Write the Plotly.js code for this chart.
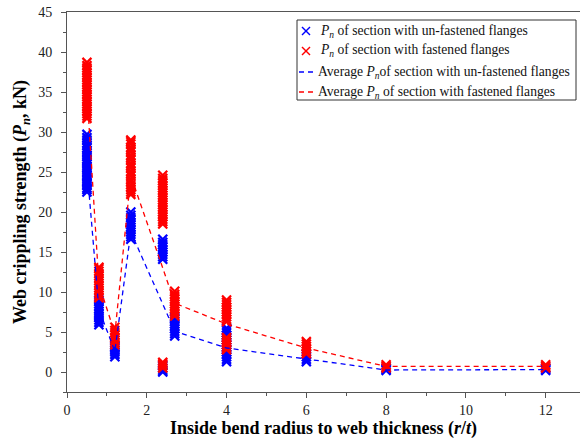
<!DOCTYPE html>
<html>
<head>
<meta charset="utf-8">
<script src="https://cdn.plot.ly/plotly-3.0.1.min.js"></script>
<style>html,body{margin:0;padding:0;background:#fff;}#chart{width:582px;height:446px;}</style>
</head>
<body>
<div id="chart"></div>
<script>
// r/t ratios (x categories)
const ratios = [0.5, 0.8, 1.2, 1.6, 2.4, 2.7, 4, 6, 8, 12];

// Pn of section with un-fastened flanges (kN), one list per ratio
const unfastenedPn = [
  [22.5, 22.8, 23.0, 23.3, 23.6, 23.8, 24.1, 24.4, 24.6, 24.9, 25.2, 25.5, 25.7, 26.0, 26.3, 26.6, 26.9, 27.1, 27.4, 27.7, 28.0, 28.3, 28.6, 29.0, 29.3, 29.7],
  [5.9, 6.2, 6.5, 6.8, 7.0, 7.3, 7.6, 7.9, 8.2, 8.5, 8.8, 9.0],
  [1.9, 2.2, 2.5, 2.7, 3.0, 3.2],
  [16.6, 16.9, 17.2, 17.5, 17.8, 18.1, 18.4, 18.7, 19.0, 19.3, 19.6, 20.0],
  [0.0, 0.2, 0.5, 0.8, 14.1, 14.4, 14.7, 15.0, 15.3, 15.6, 15.9, 16.2, 16.6],
  [4.5, 4.8, 5.1, 5.4, 5.7, 6.0, 6.3, 6.6, 6.8],
  [1.3, 1.6, 1.9, 2.2, 2.5, 2.8, 3.1, 3.4, 3.7, 4.0, 4.3, 4.6, 4.9, 5.2, 5.5],
  [1.3, 1.6, 1.9, 2.2],
  [0.2, 0.35, 0.5],
  [0.2, 0.35, 0.5]
];

// Pn of section with fastened flanges (kN), one list per ratio
const fastenedPn = [
  [31.7, 32.0, 32.3, 32.6, 32.9, 33.2, 33.5, 33.8, 34.1, 34.4, 34.7, 35.0, 35.3, 35.6, 35.9, 36.2, 36.5, 36.8, 37.1, 37.4, 37.7, 38.0, 38.3, 38.7],
  [9.3, 9.6, 9.9, 10.2, 10.5, 10.8, 11.1, 11.4, 11.7, 12.0, 12.3, 12.6, 12.9, 13.1],
  [3.4, 3.7, 4.0, 4.3, 4.6, 4.9, 5.2, 5.6],
  [22.2, 22.5, 22.8, 23.1, 23.4, 23.8, 24.1, 24.5, 24.8, 25.1, 25.5, 25.8, 26.1, 26.5, 26.8, 27.1, 27.5, 27.8, 28.1, 28.5, 28.8, 29.0],
  [0.5, 0.8, 1.0, 1.2, 18.5, 18.8, 19.1, 19.4, 19.7, 20.0, 20.3, 20.6, 20.9, 21.2, 21.5, 21.8, 22.1, 22.4, 22.7, 23.0, 23.3, 23.6, 23.9, 24.2, 24.6],
  [7.0, 7.3, 7.6, 7.9, 8.2, 8.5, 8.8, 9.1, 9.4, 9.7, 10.1],
  [2.8, 3.1, 3.4, 3.7, 4.0, 4.3, 6.3, 6.6, 6.9, 7.2, 7.5, 7.8, 8.1, 8.4, 8.7, 9.0],
  [2.3, 2.6, 2.9, 3.2, 3.5, 3.8],
  [0.5, 0.7, 0.9],
  [0.5, 0.7, 0.9]
];

// Average Pn per ratio
const avgUnfastened = [25.5, 7.8, 2.6, 17.5, 8.5, 5.1, 3.0, 1.6, 0.25, 0.3];
const avgFastened   = [35.0, 11.0, 4.8, 24.5, 13.0, 8.6, 6.0, 3.0, 0.7, 0.7];

// Legend labels
const Pn = '<i>P</i><sub><i>n</i></sub>';
const seriesNames = [
  Pn + ' of section with un-fastened flanges',
  Pn + ' of section with fastened flanges',
  'Average ' + Pn + 'of section with un-fastened flanges',
  'Average ' + Pn + ' of section with fastened flanges'
];
const seriesColors = ['#0000FF', '#FF0000', '#0000FF', '#FF0000'];

function flatten(groups) {
  const xs = [], ys = [];
  groups.forEach((vals, i) => vals.forEach(v => { xs.push(ratios[i]); ys.push(v); }));
  return {xs, ys};
}
const u = flatten(unfastenedPn);
const f = flatten(fastenedPn);

const serif = '"Liberation Serif", "Times New Roman", serif';

const traces = [
  {x: u.xs, y: u.ys, type: 'scatter', mode: 'markers', name: seriesNames[0],
   marker: {symbol: 'x-thin-open', size: 9, color: seriesColors[0], line: {width: 2.2, color: seriesColors[0]}}},
  {x: f.xs, y: f.ys, type: 'scatter', mode: 'markers', name: seriesNames[1],
   marker: {symbol: 'x-thin-open', size: 9, color: seriesColors[1], line: {width: 2.2, color: seriesColors[1]}}},
  {x: ratios, y: avgUnfastened, type: 'scatter', mode: 'lines', name: seriesNames[2],
   line: {color: seriesColors[2], width: 1.3, dash: '5px,4px'}},
  {x: ratios, y: avgFastened, type: 'scatter', mode: 'lines', name: seriesNames[3],
   line: {color: seriesColors[3], width: 1.3, dash: '5px,4px'}}
];

// plot area geometry (px) for the hand-drawn legend box
const W = 582, H = 446, ML = 67, MR = 2, MT = 12, MB = 54;
const px = x => (x - ML) / (W - ML - MR);
const py = y => (H - MB - y) / (H - MT - MB);

const shapes = [];
const annotations = [];
// legend box
shapes.push({type: 'rect', xref: 'paper', yref: 'paper',
  x0: px(297), x1: px(576), y0: py(100), y1: py(20),
  line: {color: '#333', width: 1}, fillcolor: '#fff', layer: 'above'});
const rowY = [31, 51, 72, 92];
seriesNames.forEach((name, i) => {
  const y = rowY[i];
  if (i < 2) {
    shapes.push({type: 'line', xref: 'paper', yref: 'paper', x0: px(302), x1: px(310), y0: py(y - 4), y1: py(y + 4),
      line: {color: seriesColors[i], width: 1.5}, layer: 'above'});
    shapes.push({type: 'line', xref: 'paper', yref: 'paper', x0: px(302), x1: px(310), y0: py(y + 4), y1: py(y - 4),
      line: {color: seriesColors[i], width: 1.5}, layer: 'above'});
  } else {
    shapes.push({type: 'line', xref: 'paper', yref: 'paper', x0: px(299), x1: px(315), y0: py(y), y1: py(y),
      line: {color: seriesColors[i], width: 1.3, dash: '5px,4px'}, layer: 'above'});
  }
  annotations.push({xref: 'paper', yref: 'paper', x: px(i < 2 ? 318 : 316), y: py(y), xanchor: 'left', yanchor: 'middle',
    text: name, showarrow: false, font: {family: serif, size: 13.6, color: '#111'}});
});

const layout = {
  width: W, height: H,
  margin: {l: ML, r: MR, t: MT, b: MB, autoexpand: false},
  paper_bgcolor: '#fff', plot_bgcolor: '#fff',
  font: {family: serif, size: 14, color: '#222'},
  showlegend: false,
  shapes: shapes,
  annotations: annotations,
  xaxis: {
    range: [0, 12.86], tickvals: [0, 2, 4, 6, 8, 10, 12], automargin: false,
    ticks: 'outside', ticklen: 5, tickcolor: '#555', tickwidth: 1,
    minor: {tickvals: [1, 3, 5, 7, 9, 11], ticks: 'outside', ticklen: 3, tickcolor: '#555'},
    showline: true, linecolor: '#555', linewidth: 1, mirror: true,
    showgrid: false, zeroline: false,
    tickfont: {family: serif, size: 14, color: '#222'},
    title: {text: 'Inside bend radius to web thickness (<i>r</i>/<i>t</i>)', standoff: 4,
            font: {family: serif, size: 18, color: '#000', weight: 'bold'}}
  },
  yaxis: {
    range: [-2.5, 45], tickvals: [0, 5, 10, 15, 20, 25, 30, 35, 40, 45], automargin: false,
    ticks: 'outside', ticklen: 5, tickcolor: '#555', tickwidth: 1, ticklabelstandoff: 6,
    minor: {tickvals: [-2.5, 2.5, 7.5, 12.5, 17.5, 22.5, 27.5, 32.5, 37.5, 42.5], ticks: 'outside', ticklen: 3, tickcolor: '#555'},
    showline: true, linecolor: '#555', linewidth: 1, mirror: false,
    showgrid: false, zeroline: false,
    tickfont: {family: serif, size: 14, color: '#222'},
    title: {text: 'Web crippling strength (' + Pn + ', kN)', standoff: 6,
            font: {family: serif, size: 18, color: '#000', weight: 'bold'}}
  }
};

Plotly.newPlot('chart', traces, layout, {displayModeBar: false, staticPlot: true});
</script>
</body>
</html>
